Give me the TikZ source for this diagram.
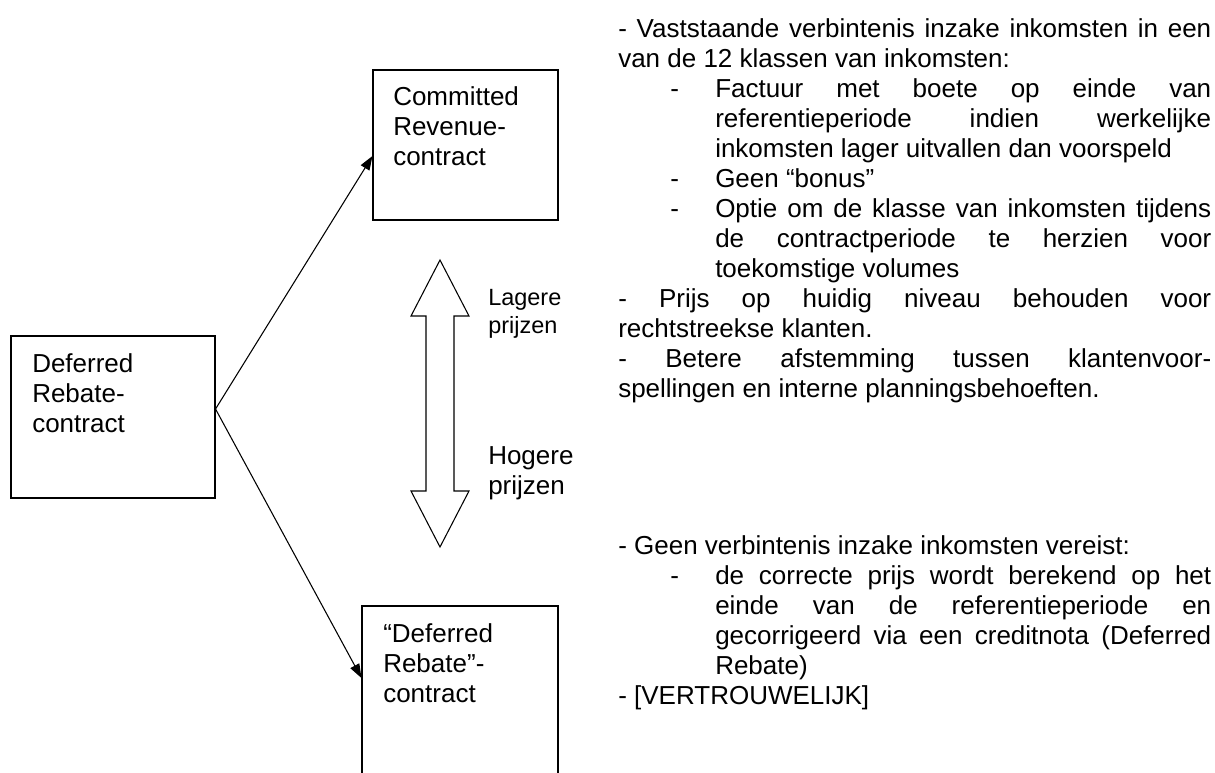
\documentclass[tikz,border=0pt]{standalone}
\usepackage{fontspec}
\setmainfont{Liberation Sans}
\usetikzlibrary{arrows.meta}

\newlength{\colW}\setlength{\colW}{444.75pt}
\newlength{\subW}\setlength{\subW}{372pt}
\newcommand{\fullline}[1]{\makebox[\colW][s]{#1}}
\newcommand{\subdash}{\makebox[72.75pt][l]{\hspace*{39pt}-}}
\newcommand{\subfull}[1]{\subdash\makebox[\subW][s]{#1}}
\newcommand{\subnext}[1]{\hspace*{72.75pt}#1}
\newcommand{\subnextfull}[1]{\hspace*{72.75pt}\makebox[\subW][s]{#1}}

\begin{document}
\begin{tikzpicture}[x=0.75pt,y=0.75pt]
		\tikzstyle{every node}+=[inner sep=0pt]
		\tikzstyle{box}=[draw=black, line width=0.8pt, rectangle]
		\tikzstyle{txt}=[anchor=base west, font=\fontsize{19.5pt}{22.5pt}\selectfont]
		\tikzstyle{small}=[anchor=base west, font=\fontsize{17.6pt}{21pt}\selectfont]
		\tikzstyle{link}=[black, line width=0.8pt, -{Triangle[length=10.5pt,width=7.5pt]}]
		\clip (0,0) rectangle (1215,-772);
		\fill [white] (0,0) rectangle (1215,-772);
		% contract boxes
		\draw (113,-417) node [box, minimum width=153pt, minimum height=121.5pt] (deferred) {};
		\draw (32,-372) node [txt] (deferredtxt) {\parbox[t]{150pt}{Deferred\\Rebate-\\contract}};
		\draw (465.5,-145) node [box, minimum width=138.75pt, minimum height=112.5pt] (committed) {};
		\draw (393,-105) node [txt] (committedtxt) {\parbox[t]{130pt}{Committed\\Revenue-\\contract}};
		\draw (460,-716) node [box, minimum width=147pt, minimum height=165pt] (rebate) {};
		\draw (383,-642) node [txt] (rebatetxt) {\parbox[t]{140pt}{“Deferred\\Rebate”-\\contract}};
		\draw [link] ([yshift=6pt]deferred.east) -- ([yshift=-8.25pt]committed.west);
		\draw [link] ([yshift=6pt]deferred.east) -- ([yshift=28.5pt]rebate.west);
		% price arrow
		\draw [black, line width=0.8pt, fill=white] (440,-260) -- (469,-316) -- (454,-316) -- (454,-491)
			-- (469,-491) -- (440,-547) -- (411,-491) -- (426,-491) -- (426,-316) -- (411,-316) -- cycle;
		\draw (488,-305) node [small] (lower) {\parbox[t]{80pt}{Lagere\\prijzen}};
		\draw (488,-464) node [txt] (higher) {\parbox[t]{80pt}{Hogere\\prijzen}};
		% notes
		\draw (618,-37) node [txt] (committednotes) {\parbox[t]{\colW}{%
			\fullline{- Vaststaande verbintenis inzake inkomsten in een}\\
			van de 12 klassen van inkomsten:\\
			\subfull{Factuur met boete op einde van}\\
			\subnextfull{referentieperiode indien werkelijke}\\
			\subnext{inkomsten lager uitvallen dan voorspeld}\\
			\subdash Geen “bonus”\\
			\subfull{Optie om de klasse van inkomsten tijdens}\\
			\subnextfull{de contractperiode te herzien voor}\\
			\subnext{toekomstige volumes}\\
			\fullline{- Prijs op huidig niveau behouden voor}\\
			rechtstreekse klanten.\\
			\fullline{- Betere afstemming tussen klantenvoor-}\\
			spellingen en interne planningsbehoeften.}};
		\draw (618,-554) node [txt] (rebatenotes) {\parbox[t]{\colW}{%
			- Geen verbintenis inzake inkomsten vereist:\\
			\subfull{de correcte prijs wordt berekend op het}\\
			\subnextfull{einde van de referentieperiode en}\\
			\subnextfull{gecorrigeerd via een creditnota (Deferred}\\
			\subnext{Rebate)}\\
			- [VERTROUWELIJK]}};
	\end{tikzpicture}
\end{document}
